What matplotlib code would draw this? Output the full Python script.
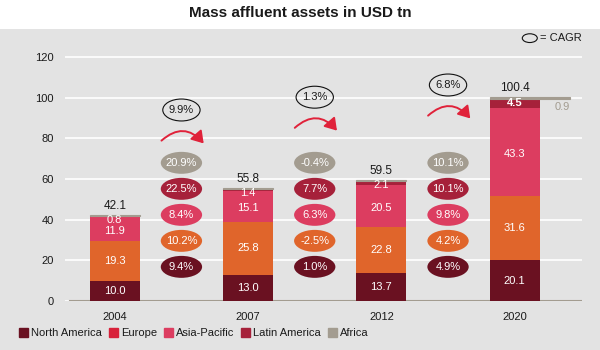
import matplotlib
matplotlib.use("Agg")
import matplotlib.pyplot as plt
import matplotlib.patches as mpatches
from matplotlib.patches import Ellipse, FancyArrowPatch
import numpy as np

plt.rcParams['font.family'] = ['Liberation Sans', 'DejaVu Sans']
NARROW = ['Liberation Sans Narrow', 'Liberation Sans', 'DejaVu Sans']

# ---------------------------------------------------------------------------
# Data
# ---------------------------------------------------------------------------
years = ['2004', '2007', '2012', '2020']
north_america = [10.0, 13.0, 13.7, 20.1]
europe = [19.3, 25.8, 22.8, 31.6]
asia_pacific = [11.9, 15.1, 20.5, 43.3]
latin_america = [0.8, 1.4, 2.1, 4.5]
africa = [0.1, 0.5, 0.4, 0.9]
totals = [42.1, 55.8, 59.5, 100.4]

# CAGR between consecutive years
cagr_total = ['9.9%', '1.3%', '6.8%']
cagr_africa = ['20.9%', '-0.4%', '10.1%']
cagr_latam = ['22.5%', '7.7%', '10.1%']
cagr_apac = ['8.4%', '6.3%', '9.8%']
cagr_europe = ['10.2%', '-2.5%', '4.2%']
cagr_na = ['9.4%', '1.0%', '4.9%']

# ---------------------------------------------------------------------------
# Style
# ---------------------------------------------------------------------------
BG = '#e3e3e3'
C_NA = '#6a1121'
C_EU = '#e0652b'
C_EU_LEG = '#d8213a'
C_AP = '#dc3d60'
C_LA = '#a6213a'
C_AF = '#a39c90'
ARROW = '#e0223a'
TXT = '#1a1a1a'

BAR_W = 0.75
AF_W = [0.75, 0.75, 0.75, 1.2]
FS_LAB = 8

fig = plt.figure(figsize=(6, 3.5), dpi=100)
fig.patch.set_facecolor(BG)
# white title band
fig.patches.append(mpatches.Rectangle((0, 0.918), 1, 0.082, transform=fig.transFigure,
                                      facecolor='white', edgecolor='none', zorder=0))
fig.text(0.5, 0.963, 'Mass affluent assets in USD tn', ha='center', va='center',
         fontsize=11, fontweight='bold', color=TXT)

ax = fig.add_axes([0.108, 0.14, 0.862, 0.7257])
ax.set_facecolor(BG)
for s in ax.spines.values():
    s.set_visible(False)
ax.set_xlim(-0.75, 7.01)
ax.set_ylim(0, 125)
ax.set_yticks(range(0, 121, 20))
ax.tick_params(axis='y', length=0, labelsize=8, labelcolor=TXT, pad=8)
ax.tick_params(axis='x', length=0, labelsize=8, labelcolor=TXT, pad=8)
ax.yaxis.grid(True, color='white', lw=1.2)
ax.set_axisbelow(True)
ax.axhline(0, xmin=0.01, xmax=1, color=C_AF, lw=1.5, zorder=2)

x = np.arange(len(years)) * 2.0
ax.set_xticks(x)
ax.set_xticklabels(years)

na = np.array(north_america)
eu = np.array(europe)
ap = np.array(asia_pacific)
la = np.array(latin_america)
af = np.array(africa)

ax.bar(x, na, BAR_W, color=C_NA, zorder=3)
ax.bar(x, eu, BAR_W, bottom=na, color=C_EU, zorder=3)
ax.bar(x, ap, BAR_W, bottom=na + eu, color=C_AP, zorder=3)
ax.bar(x, la, BAR_W, bottom=na + eu + ap, color=C_LA, zorder=3)
ax.bar(x - BAR_W / 2, af, AF_W, bottom=na + eu + ap + la, align='edge',
       color=C_AF, edgecolor=C_AF, lw=0.8, zorder=3)

lab = dict(ha='center', color='white', fontsize=FS_LAB, family=NARROW, zorder=4)
for i in range(len(years)):
    ax.text(x[i], na[i] / 2, f'{na[i]:.1f}', va='center', **lab)
    ax.text(x[i], na[i] + eu[i] / 2, f'{eu[i]:.1f}', va='center', **lab)
    ax.text(x[i], na[i] + eu[i] + ap[i] / 2 - 0.8, f'{ap[i]:.1f}', va='center', **lab)
    top_la = na[i] + eu[i] + ap[i] + la[i]
    ax.text(x[i], top_la + 0.3, f'{la[i]:.1f}', va='top',
            fontweight='bold' if i == 3 else 'normal', **lab)
    ax.text(x[i], totals[i] + 1.5, f'{totals[i]:.1f}', ha='center', va='bottom',
            fontsize=8.5, color=TXT)

# Africa 2020 value to the right
ax.text(x[3] + 0.72, totals[3] - 5.0, f'{af[3]:.1f}', ha='center', va='center',
        fontsize=8, color=C_AF, family=NARROW)

# CAGR ellipses between bars
xm = x[:-1] + 1
ell_rows = [(cagr_africa, C_AF, 68.0), (cagr_latam, C_LA, 55.2),
            (cagr_apac, C_AP, 42.4), (cagr_europe, C_EU, 29.6),
            (cagr_na, C_NA, 16.8)]
for vals, col, yy in ell_rows:
    for j, xc in enumerate(xm):
        ax.add_patch(Ellipse((xc, yy), 0.62, 10.8, facecolor=col,
                             edgecolor='none', zorder=3))
        ax.text(xc, yy, vals[j], va='center', **lab)

total_y = [94.0, 100.3, 106.3]
for j, xc in enumerate(xm):
    ax.add_patch(Ellipse((xc, total_y[j]), 0.56, 10.8, facecolor='none',
                         edgecolor='#111111', lw=0.8, zorder=3))
    ax.text(xc, total_y[j], cagr_total[j], ha='center', va='center',
            fontsize=8, family=NARROW, color=TXT, zorder=4)
    ay = total_y[j] - 16
    ax.add_patch(FancyArrowPatch((xc - 0.33, ay), (xc + 0.36, ay - 1.5),
                                 connectionstyle='arc3,rad=-0.55',
                                 arrowstyle='-|>,head_length=7,head_width=4.5',
                                 color=ARROW, lw=1.4, zorder=3))

# CAGR key, top right
fig.patches.append(Ellipse((0.883, 0.891), 0.025, 0.025, transform=fig.transFigure,
                           facecolor='none', edgecolor='#111111', lw=0.8))
fig.text(0.9, 0.891, '= CAGR', ha='left', va='center', fontsize=8, color=TXT)

handles = [mpatches.Patch(color=C_NA, label='North America'),
           mpatches.Patch(color=C_EU_LEG, label='Europe'),
           mpatches.Patch(color=C_AP, label='Asia-Pacific'),
           mpatches.Patch(color=C_LA, label='Latin America'),
           mpatches.Patch(color=C_AF, label='Africa')]
fig.legend(handles=handles, loc='lower left', bbox_to_anchor=(0.015, 0.005),
           ncol=5, frameon=False, fontsize=8, handlelength=0.8, handleheight=0.8,
           handletextpad=0.3, columnspacing=0.6, labelcolor=TXT)

fig.savefig('out.png', dpi=100, facecolor=BG)
